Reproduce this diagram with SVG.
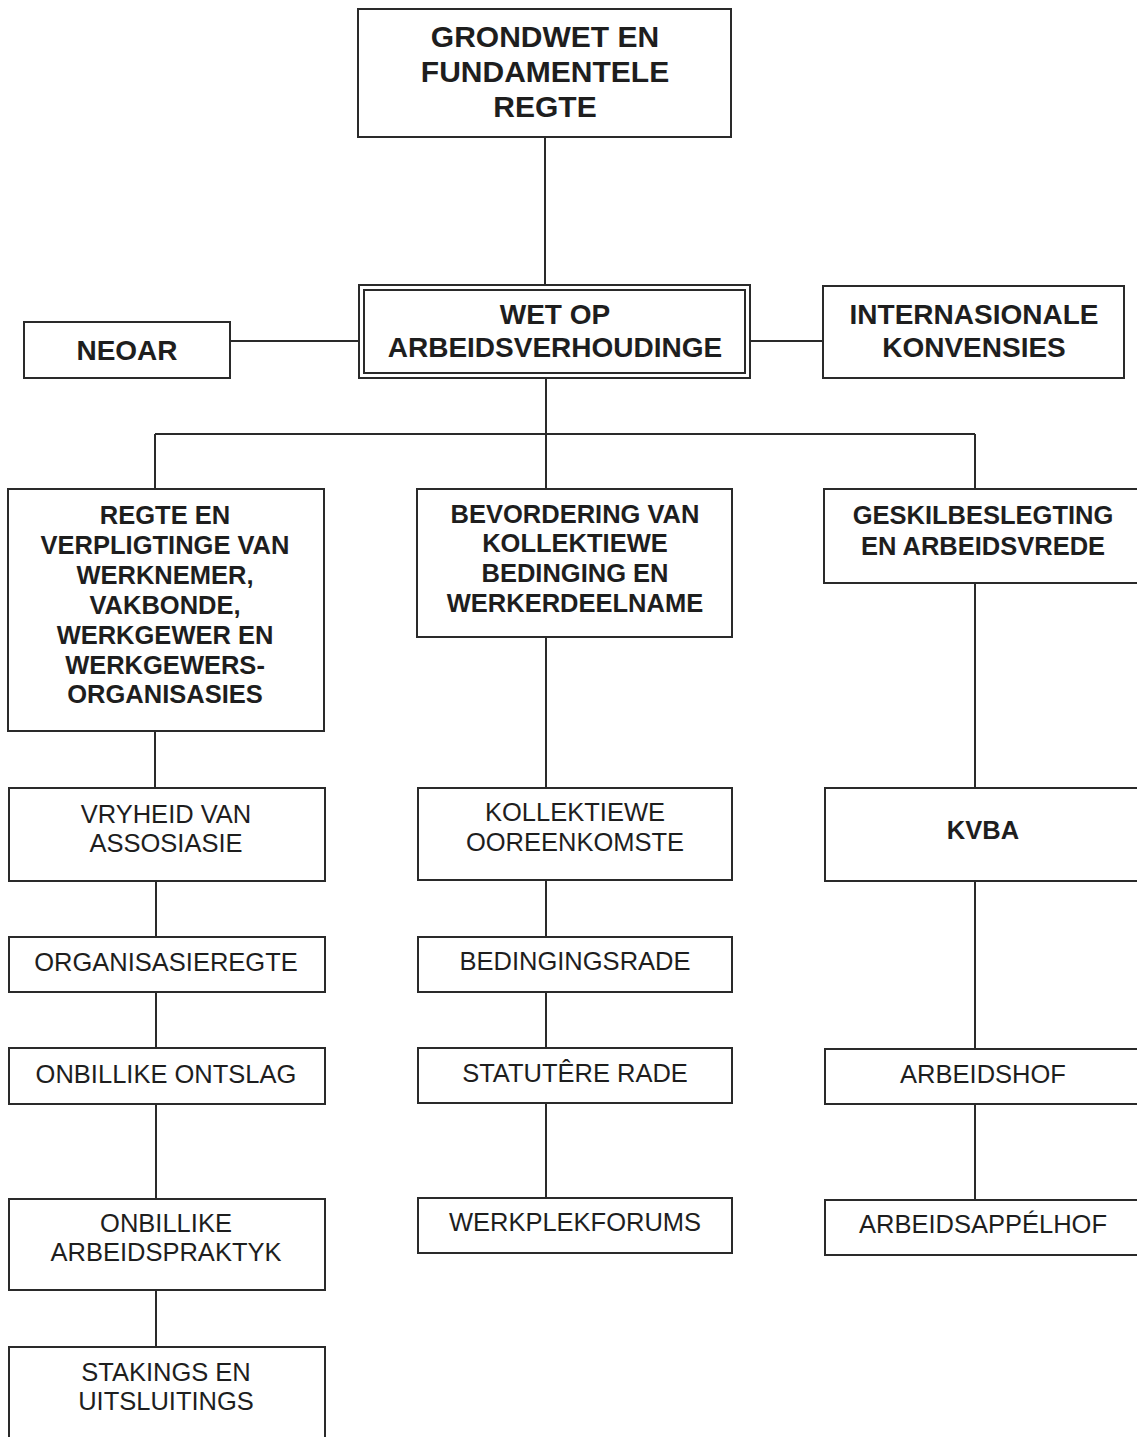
<svg xmlns="http://www.w3.org/2000/svg" width="1137" height="1437" viewBox="0 0 1137 1437">
<style>
.box{fill:#fff;stroke:#2a2a2a;stroke-width:2}
.con line{stroke:#2a2a2a;stroke-width:2}
text{font-family:"Liberation Sans",Arial,sans-serif;fill:#1e1e1e;text-anchor:middle}
.b{font-weight:bold}
.t1{font-size:30px}
.t2{font-size:28px}
.t3{font-size:25.5px}
</style>
<rect width="1137" height="1437" fill="#fff"/>
<g class="con">
<line x1="545" y1="137" x2="545" y2="286"/>
<line x1="230" y1="341" x2="360" y2="341"/>
<line x1="750" y1="341" x2="823" y2="341"/>
<line x1="546" y1="378" x2="546" y2="434"/>
<line x1="155" y1="434" x2="975" y2="434"/>
<line x1="155" y1="434" x2="155" y2="489"/>
<line x1="546" y1="434" x2="546" y2="489"/>
<line x1="975" y1="434" x2="975" y2="489"/>
<line x1="155" y1="731" x2="155" y2="788"/>
<line x1="156" y1="881" x2="156" y2="937"/>
<line x1="156" y1="992" x2="156" y2="1048"/>
<line x1="156" y1="1104" x2="156" y2="1199"/>
<line x1="156" y1="1290" x2="156" y2="1347"/>
<line x1="546" y1="637" x2="546" y2="788"/>
<line x1="546" y1="880" x2="546" y2="937"/>
<line x1="546" y1="992" x2="546" y2="1048"/>
<line x1="546" y1="1103" x2="546" y2="1198"/>
<line x1="975" y1="583" x2="975" y2="788"/>
<line x1="975" y1="881" x2="975" y2="1049"/>
<line x1="975" y1="1104" x2="975" y2="1200"/>
</g>
<g id="grondwet">
<rect class="box" x="358" y="9" width="373" height="128"/>
<text class="b t1" x="545" y="47">GRONDWET EN</text>
<text class="b t1" x="545" y="82">FUNDAMENTELE</text>
<text class="b t1" x="545" y="117">REGTE</text>
</g>
<g id="wet">
<rect class="box" x="359" y="285" width="391" height="93"/>
<rect class="box" x="364" y="290" width="381" height="83" stroke-width="1.5"/>
<text class="b t2" x="555" y="324">WET OP</text>
<text class="b t2" x="555" y="357">ARBEIDSVERHOUDINGE</text>
</g>
<g id="neoar">
<rect class="box" x="24" y="322" width="206" height="56"/>
<text class="b t2" x="127" y="360">NEOAR</text>
</g>
<g id="internasionale">
<rect class="box" x="823" y="286" width="301" height="92"/>
<text class="b t2" x="974" y="324">INTERNASIONALE</text>
<text class="b t2" x="974" y="357">KONVENSIES</text>
</g>
<g id="regte">
<rect class="box" x="8" y="489" width="316" height="242"/>
<text class="b t3" x="165" y="524">REGTE EN</text>
<text class="b t3" x="165" y="554">VERPLIGTINGE VAN</text>
<text class="b t3" x="165" y="584">WERKNEMER,</text>
<text class="b t3" x="165" y="614">VAKBONDE,</text>
<text class="b t3" x="165" y="644">WERKGEWER EN</text>
<text class="b t3" x="165" y="674">WERKGEWERS-</text>
<text class="b t3" x="165" y="703">ORGANISASIES</text>
</g>
<g id="bevordering">
<rect class="box" x="417" y="489" width="315" height="148"/>
<text class="b t3" x="575" y="523">BEVORDERING VAN</text>
<text class="b t3" x="575" y="552">KOLLEKTIEWE</text>
<text class="b t3" x="575" y="582">BEDINGING EN</text>
<text class="b t3" x="575" y="612">WERKERDEELNAME</text>
</g>
<g id="geskil">
<rect class="box" x="824" y="489" width="320" height="94"/>
<text class="b t3" x="983" y="524">GESKILBESLEGTING</text>
<text class="b t3" x="983" y="555">EN ARBEIDSVREDE</text>
</g>
<g id="vryheid">
<rect class="box" x="9" y="788" width="316" height="93"/>
<text class="t3" x="166" y="823">VRYHEID VAN</text>
<text class="t3" x="166" y="852">ASSOSIASIE</text>
</g>
<g id="organisasieregte">
<rect class="box" x="9" y="937" width="316" height="55"/>
<text class="t3" x="166" y="971">ORGANISASIEREGTE</text>
</g>
<g id="ontslag">
<rect class="box" x="9" y="1048" width="316" height="56"/>
<text class="t3" x="166" y="1083">ONBILLIKE ONTSLAG</text>
</g>
<g id="arbeidspraktyk">
<rect class="box" x="9" y="1199" width="316" height="91"/>
<text class="t3" x="166" y="1232">ONBILLIKE</text>
<text class="t3" x="166" y="1261">ARBEIDSPRAKTYK</text>
</g>
<g id="stakings">
<rect class="box" x="9" y="1347" width="316" height="100"/>
<text class="t3" x="166" y="1381">STAKINGS EN</text>
<text class="t3" x="166" y="1410">UITSLUITINGS</text>
</g>
<g id="kollektiewe">
<rect class="box" x="418" y="788" width="314" height="92"/>
<text class="t3" x="575" y="821">KOLLEKTIEWE</text>
<text class="t3" x="575" y="851">OOREENKOMSTE</text>
</g>
<g id="bedingingsrade">
<rect class="box" x="418" y="937" width="314" height="55"/>
<text class="t3" x="575" y="970">BEDINGINGSRADE</text>
</g>
<g id="statutere">
<rect class="box" x="418" y="1048" width="314" height="55"/>
<text class="t3" x="575" y="1082">STATUTÊRE RADE</text>
</g>
<g id="werkplekforums">
<rect class="box" x="418" y="1198" width="314" height="55"/>
<text class="t3" x="575" y="1231">WERKPLEKFORUMS</text>
</g>
<g id="kvba">
<rect class="box" x="825" y="788" width="320" height="93"/>
<text class="b t3" x="983" y="839">KVBA</text>
</g>
<g id="arbeidshof">
<rect class="box" x="825" y="1049" width="320" height="55"/>
<text class="t3" x="983" y="1083">ARBEIDSHOF</text>
</g>
<g id="appelhof">
<rect class="box" x="825" y="1200" width="320" height="55"/>
<text class="t3" x="983" y="1233">ARBEIDSAPPÉLHOF</text>
</g>
</svg>
